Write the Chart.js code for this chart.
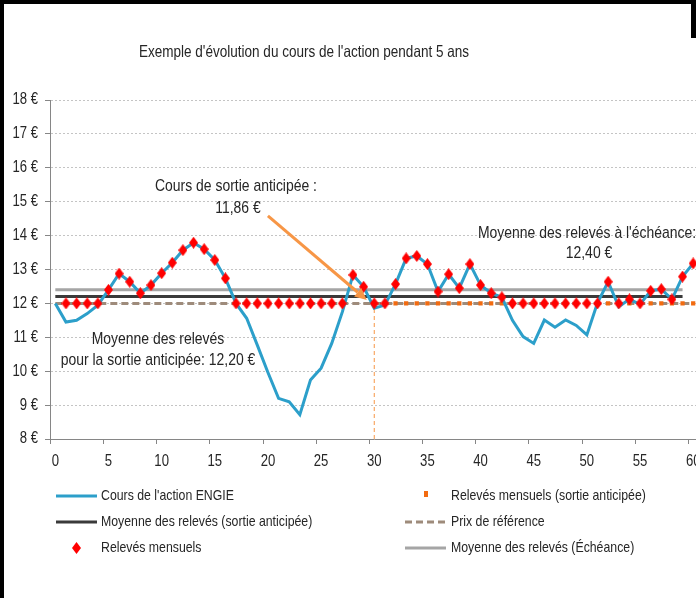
<!DOCTYPE html>
<html lang="fr">
<head>
<meta charset="utf-8">
<title>Exemple d'évolution du cours de l'action pendant 5 ans</title>
<script src="https://cdn.jsdelivr.net/npm/chart.js@4.4.1/dist/chart.umd.min.js"></script>
<style>
  html, body { margin: 0; padding: 0; background: #fff; overflow: hidden; }
  #wrap { position: relative; width: 696px; height: 598px; overflow: hidden; background: #fff; }
  #chart { position: absolute; left: 0; top: 0; }
  .edge { position: absolute; background: #000; }
</style>
</head>
<body>
<div id="wrap">
  <canvas id="chart" width="720" height="598"></canvas>
  <div class="edge" style="left:0;top:0;width:696px;height:4px"></div>
  <div class="edge" style="left:0;top:0;width:4px;height:598px"></div>
  <div class="edge" style="left:691px;top:0;width:5px;height:38px"></div>
</div>
<script>
// months 0..60 (5 years)
const months = [0, 1, 2, 3, 4, 5, 6, 7, 8, 9, 10, 11, 12, 13, 14, 15, 16, 17, 18, 19, 20,
  21, 22, 23, 24, 25, 26, 27, 28, 29, 30, 31, 32, 33, 34, 35, 36, 37, 38, 39, 40,
  41, 42, 43, 44, 45, 46, 47, 48, 49, 50, 51, 52, 53, 54, 55, 56, 57, 58, 59, 60];

// share price (€)
const price = [12.00, 11.45, 11.50, 11.70, 11.95, 12.40, 12.88, 12.64, 12.30, 12.54, 12.89,
  13.20, 13.57, 13.79, 13.60, 13.28, 12.74, 12.00, 11.56, 10.77, 9.96,
  9.20, 9.10, 8.72, 9.74, 10.09, 10.82, 11.75, 12.84, 12.49, 11.86,
  11.95, 12.57, 13.33, 13.40, 13.16, 12.35, 12.86, 12.45, 13.16, 12.54,
  12.30, 12.18, 11.50, 11.02, 10.82, 11.51, 11.30, 11.51, 11.35, 11.07,
  12.02, 12.64, 11.90, 12.12, 11.97, 12.37, 12.42, 12.12, 12.79, 13.18];

// monthly readings (floored at the reference price)
const readings = [null, 12, 12, 12, 12, 12.40, 12.88, 12.64, 12.30, 12.54, 12.89,
  13.20, 13.57, 13.79, 13.60, 13.28, 12.74, 12, 12, 12, 12,
  12, 12, 12, 12, 12, 12, 12, 12.84, 12.49, 12,
  12, 12.57, 13.33, 13.40, 13.16, 12.35, 12.86, 12.45, 13.16, 12.54,
  12.30, 12.18, 12, 12, 12, 12, 12, 12, 12, 12,
  12, 12.64, 12, 12.12, 12, 12.37, 12.42, 12.12, 12.79, 13.18];

// monthly readings after early exit
const exitReadings = [null, null, null, null, null, null, null, null, null, null, null,
  null, null, null, null, null, null, null, null, null, null,
  null, null, null, null, null, null, null, null, null, null,
  12, 12, 12, 12, 12, 12, 12, 12, 12, 12,
  12, 12, 12, 12, 12, 12, 12, 12, 12, 12,
  12, 12, 12, 12, 12, 12, 12, 12, 12, 12];

const refPrice = 12.00;
const meanExit = 12.20;
const meanMaturity = 12.40;
const meanLastMonth = 59;
const exitMonth = 30;

const xTicks = [0, 5, 10, 15, 20, 25, 30, 35, 40, 45, 50, 55, 60];
const yTicks = [8, 9, 10, 11, 12, 13, 14, 15, 16, 17, 18];

const FONT = "'Liberation Sans', Arial, sans-serif";
const SQUISH = 0.82; // narrow look of the original font
const TEXT = '#262626';
const BLUE = '#2C9FCA';
const RED = '#FF0000';
const ORANGE = '#F26B10';
const ARROW = '#F79646';
const DARK = '#3A3A3A';
const GREY = '#A5A5A5';
const BROWN = '#9E8B7B';
const AXIS = '#868686';

// tall red diamond marker
const diamond = document.createElement('canvas');
diamond.width = 9;
diamond.height = 12;
(function () {
    const c = diamond.getContext('2d');
    c.fillStyle = RED;
    c.beginPath();
    c.moveTo(4.5, 0);
    c.lineTo(9, 6);
    c.lineTo(4.5, 12);
    c.lineTo(0, 6);
    c.closePath();
    c.fill();
})();

function narrowText(ctx, text, x, y, size, align) {
    ctx.save();
    ctx.font = size + 'px ' + FONT;
    ctx.fillStyle = TEXT;
    ctx.textBaseline = 'middle';
    ctx.textAlign = align || 'left';
    ctx.translate(x, y);
    ctx.scale(SQUISH, 1);
    ctx.fillText(text, 0, 0);
    ctx.restore();
}

function drawArrow(ctx, x1, y1, x2, y2) {
    const ang = Math.atan2(y2 - y1, x2 - x1);
    const head = 12, half = 5.5;
    const bx = x2 - Math.cos(ang) * head;
    const by = y2 - Math.sin(ang) * head;
    ctx.save();
    ctx.strokeStyle = ARROW;
    ctx.fillStyle = ARROW;
    ctx.lineWidth = 3;
    ctx.beginPath();
    ctx.moveTo(x1, y1);
    ctx.lineTo(bx, by);
    ctx.stroke();
    ctx.beginPath();
    ctx.moveTo(x2, y2);
    ctx.lineTo(bx - Math.sin(ang) * half, by + Math.cos(ang) * half);
    ctx.lineTo(bx + Math.sin(ang) * half, by - Math.cos(ang) * half);
    ctx.closePath();
    ctx.fill();
    ctx.restore();
}

const decorPlugin = {
    id: 'decor',
    afterDatasetsDraw(chart) {
        const ctx = chart.ctx;
        const xs = chart.scales.x, ys = chart.scales.y;
        const area = chart.chartArea;

        // x tick marks between categories
        ctx.save();
        ctx.strokeStyle = AXIS;
        ctx.lineWidth = 1;
        xTicks.forEach(v => {
            const px = Math.round(xs.getPixelForValue(v - 0.5)) + 0.5;
            ctx.beginPath();
            ctx.moveTo(px, area.bottom);
            ctx.lineTo(px, area.bottom + 5);
            ctx.stroke();
        });
        ctx.restore();

        // tick labels
        xTicks.forEach(v => narrowText(ctx, String(v), xs.getPixelForValue(v), 462, 16, 'center'));
        yTicks.forEach(v => narrowText(ctx, v + ' €', 38, ys.getPixelForValue(v), 16, 'right'));

        // arrow to the early exit price
        drawArrow(ctx, xs.getPixelForValue(20), ys.getPixelForValue(14.58),
            xs.getPixelForValue(29.3), ys.getPixelForValue(12.1));

        // annotations
        narrowText(ctx, 'Cours de sortie anticipée :', 236, 186, 17, 'center');
        narrowText(ctx, '11,86 €', 238, 208, 17, 'center');
        narrowText(ctx, 'Moyenne des relevés', 158, 339, 17, 'center');
        narrowText(ctx, 'pour la sortie anticipée: 12,20 €', 158, 360, 17, 'center');
        narrowText(ctx, 'Moyenne des relevés à l\'échéance:', 478, 233, 17, 'left');
        narrowText(ctx, '12,40 €', 589, 253, 17, 'center');
    },
    afterDraw(chart) {
        const ctx = chart.ctx;
        narrowText(ctx, 'Exemple d\'évolution du cours de l\'action pendant 5 ans', 304, 52, 16.5, 'center');

        // legend
        const line = (x, y, color, dash) => {
            ctx.save();
            ctx.strokeStyle = color;
            ctx.lineWidth = 3;
            ctx.setLineDash(dash || []);
            ctx.beginPath();
            ctx.moveTo(x, y);
            ctx.lineTo(x + 41, y);
            ctx.stroke();
            ctx.restore();
        };
        line(56, 496, BLUE);
        narrowText(ctx, 'Cours de l\'action ENGIE', 101, 496, 15);
        line(56, 522, DARK);
        narrowText(ctx, 'Moyenne des relevés (sortie anticipée)', 101, 522, 15);
        ctx.drawImage(diamond, 72, 542);
        narrowText(ctx, 'Relevés mensuels', 101, 548, 15);

        ctx.fillStyle = ORANGE;
        ctx.fillRect(424, 491, 4, 6);
        narrowText(ctx, 'Relevés mensuels (sortie anticipée)', 451, 496, 15);
        line(405, 522, BROWN, [7, 4]);
        narrowText(ctx, 'Prix de référence', 451, 522, 15);
        line(405, 548, GREY);
        narrowText(ctx, 'Moyenne des relevés (Échéance)', 451, 548, 15);
    }
};

const chart = new Chart(document.getElementById('chart'), {
    type: 'line',
    data: {
        labels: months,
        datasets: [
            {
                label: 'Relevés mensuels',
                data: readings,
                showLine: false,
                pointStyle: diamond,
                pointRadius: 5,
                order: 0
            },
            {
                label: "Cours de l'action ENGIE",
                data: price,
                borderColor: BLUE,
                borderWidth: 3,
                pointRadius: 0,
                order: 1
            },
            {
                label: 'Relevés mensuels (sortie anticipée)',
                data: exitReadings,
                showLine: false,
                pointStyle: 'rect',
                pointRadius: 3,
                backgroundColor: ORANGE,
                borderWidth: 0,
                order: 2
            },
            {
                label: 'Sortie anticipée',
                data: [{ x: exitMonth, y: 8 }, { x: exitMonth, y: price[exitMonth] }],
                borderColor: ARROW,
                borderWidth: 1,
                borderDash: [4, 3],
                pointRadius: 0,
                order: 3
            },
            {
                label: 'Moyenne des relevés (sortie anticipée)',
                data: [{ x: 0, y: meanExit }, { x: meanLastMonth, y: meanExit }],
                borderColor: DARK,
                borderWidth: 3,
                pointRadius: 0,
                order: 4
            },
            {
                label: 'Moyenne des relevés (Échéance)',
                data: [{ x: 0, y: meanMaturity }, { x: meanLastMonth, y: meanMaturity }],
                borderColor: GREY,
                borderWidth: 3,
                pointRadius: 0,
                order: 5
            },
            {
                label: 'Prix de référence',
                data: [{ x: 0, y: refPrice }, { x: 60, y: refPrice }],
                borderColor: BROWN,
                borderWidth: 3,
                borderDash: [7, 4],
                pointRadius: 0,
                order: 6
            }
        ]
    },
    options: {
        responsive: false,
        animation: false,
        devicePixelRatio: 1,
        layout: { padding: { top: 100, left: 0, right: 21.5, bottom: 129 } },
        plugins: {
            legend: { display: false },
            title: { display: false },
            tooltip: { enabled: false }
        },
        elements: { line: { tension: 0 } },
        scales: {
            x: {
                type: 'linear',
                min: -0.5,
                max: 60.5,
                afterBuildTicks: s => { s.ticks = xTicks.map(v => ({ value: v })); },
                afterFit: s => { s.height = 30; },
                grid: { display: false, drawTicks: false },
                border: { display: true, color: AXIS, width: 1 },
                ticks: { display: false }
            },
            y: {
                min: 8,
                max: 18,
                afterBuildTicks: s => { s.ticks = yTicks.map(v => ({ value: v })); },
                afterFit: s => { s.width = 50; },
                grid: {
                    color: '#C4C4C4',
                    lineWidth: 1,
                    drawTicks: true,
                    tickLength: 5,
                    tickColor: AXIS
                },
                border: { display: true, color: AXIS, width: 1, dash: [2, 2] },
                ticks: { display: false }
            }
        }
    },
    plugins: [decorPlugin]
});
</script>
</body>
</html>
